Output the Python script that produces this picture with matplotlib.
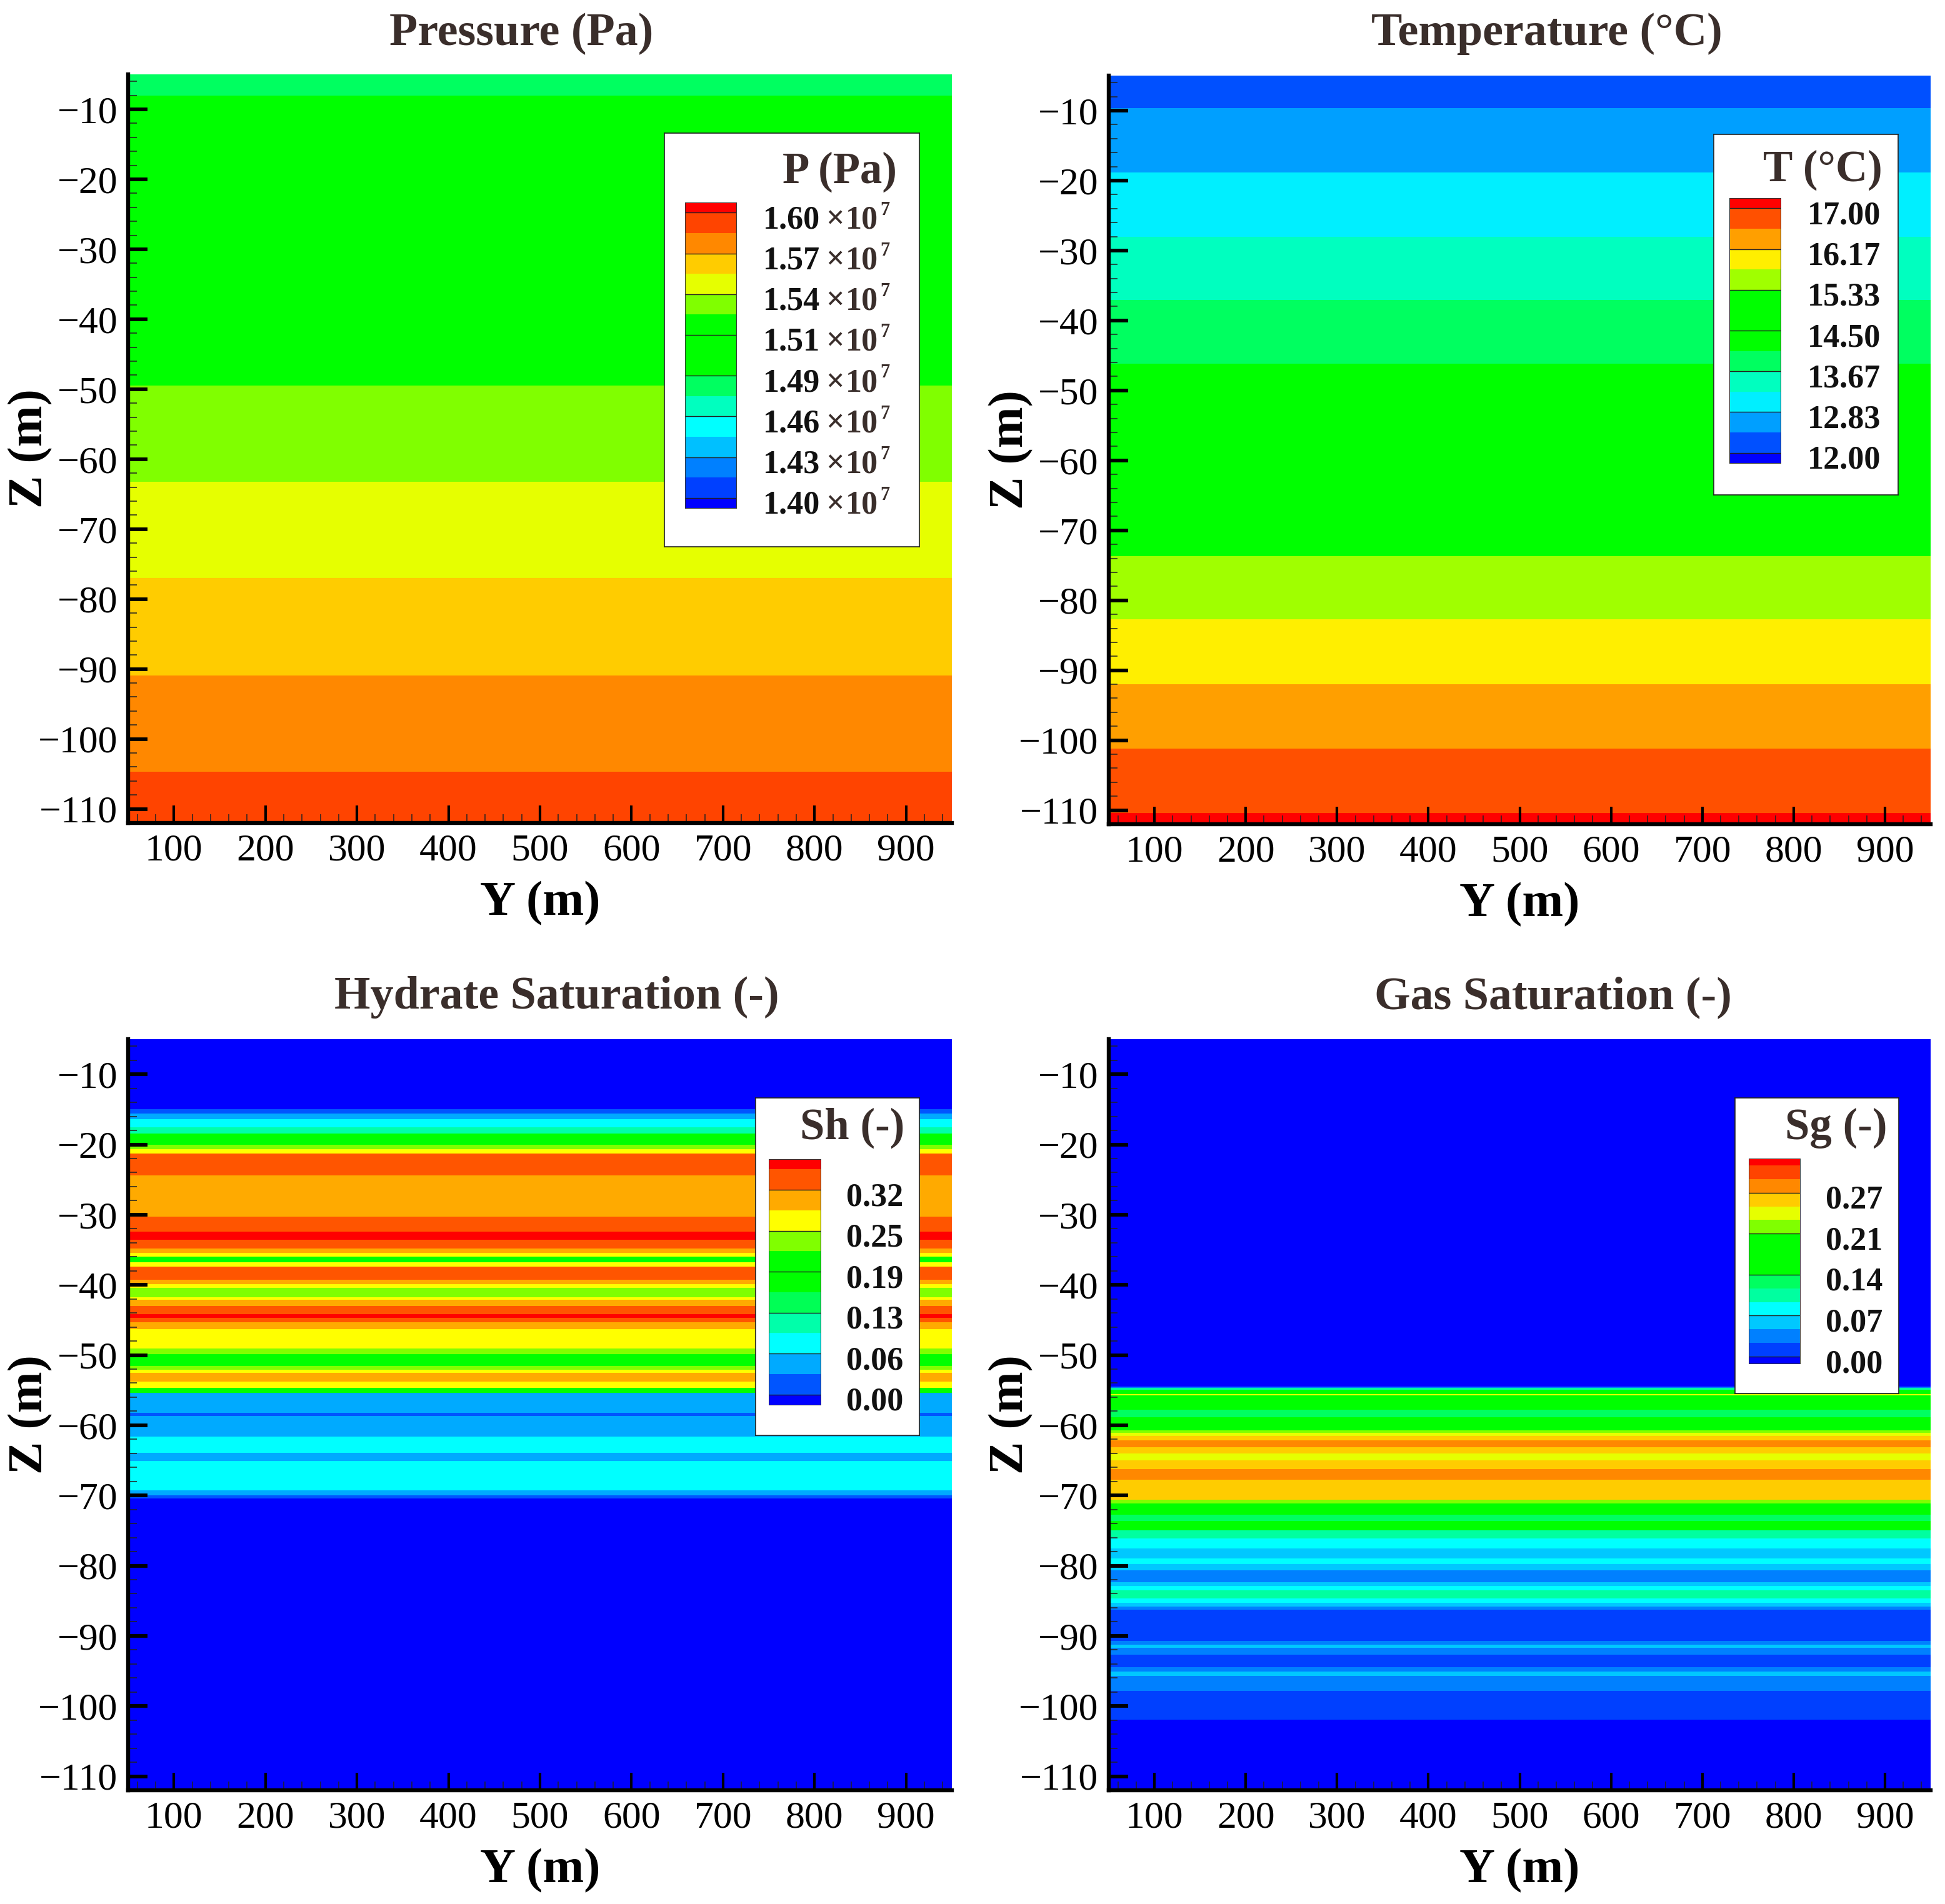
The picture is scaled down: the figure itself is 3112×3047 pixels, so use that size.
import numpy as np
import matplotlib
matplotlib.use("Agg")
import matplotlib.pyplot as plt
import matplotlib.transforms as mtrans
from matplotlib.colors import ListedColormap, BoundaryNorm
from matplotlib.ticker import MultipleLocator

plt.rcParams['font.family'] = ['Liberation Serif', 'DejaVu Sans']

W, H = 3112, 3047
Y_EDGES = [50, 950]
Z_TOP, Z_BOTTOM = -5, -112

# ---- Pressure (x1e7 Pa)
p_edges = [-5, -8.05, -49.5, -63.2, -77.0, -90.9, -104.7, -112]
p_vals = [1.4786, 1.5071, 1.5357, 1.55, 1.5643, 1.5786, 1.5929]
p_levels = list(np.round(np.linspace(1.40, 1.60, 15), 5))
p_labels = ['1.40', '1.43', '1.46', '1.49', '1.51', '1.54', '1.57', '1.60']
p_colors = ['#0000ff', '#0040ff', '#0080ff', '#00c0ff', '#00ffff', '#00ffbf', '#00ff60', '#00ff00',
            '#00ff00', '#00ff00', '#80ff00', '#e6ff00', '#ffcc00', '#ff8800', '#ff4400', '#ff0000']

# ---- Temperature (deg C)
t_edges = [-5, -9.6, -18.8, -28.0, -37.1, -46.2, -73.7, -82.7, -92.0, -101.2, -110.4, -112]
t_vals = [12.21, 12.625, 13.04, 13.46, 13.875, 14.5, 15.54, 15.96, 16.375, 16.79, 17.1]
t_levels = list(np.round(np.linspace(12.0, 17.0, 13), 4))
t_labels = ['12.00', '12.83', '13.67', '14.50', '15.33', '16.17', '17.00']
t_colors = ['#0000ff', '#0050ff', '#009fff', '#00efff', '#00ffbf', '#00ff60', '#00ff00',
            '#00ff00', '#00ff00', '#a0ff00', '#ffef00', '#ff9f00', '#ff5000', '#ff0000']

# ---- Hydrate saturation
sh_edges = [-5, -14.93, -15.61, -16.39, -17.53, -18.44, -20.08, -20.63, -21.27, -24.42, -30.30,
            -32.40, -33.54, -34.86, -35.41, -36.0, -36.82, -37.37, -39.29, -39.88, -40.43,
            -41.80, -42.16, -42.98, -44.21, -44.67, -45.36, -46.27, -49.10, -49.83, -51.56,
            -52.11, -52.56, -53.75, -54.71, -55.39, -58.22, -58.68, -61.64, -63.97, -65.06,
            -69.31, -70.0, -70.45, -112]
sh_vals = [0, .016, .048, .080, .111, .175, .239, .270, .334, .302,
           .334, .36, .334, .302, .270, .175, .270, .334, .302, .270,
           .239, .270, .302, .334, .36, .334, .302, .270, .239, .175,
           .239, .270, .302, .270, .175, .048, .016, .048, .080, .048,
           .080, .048, .016, 0]
sh_levels = [round(0.0318 * i, 4) for i in range(12)]
sh_labels = ['0.00', '0.06', '0.13', '0.19', '0.25', '0.32']
sh_colors = ['#0000ff', '#0055ff', '#00aaff', '#00ffff', '#00ffaa', '#00ff55', '#00ff00',
             '#00ff00', '#80ff00', '#ffff00', '#ffaa00', '#ff5500', '#ff0000']

# ---- Gas saturation
sg_edges = [-5, -54.46, -54.66, -54.93, -55.6, -55.7, -57.83, -58.85, -60.75, -61.05, -61.5,
            -62.17, -63.09, -64.01, -64.96, -66.22, -67.72, -70.65, -71.1, -72.73, -73.61,
            -75.0, -76.13, -77.56, -78.99, -79.8, -80.69, -82.39, -82.93, -83.51, -84.7,
            -85.31, -85.79, -86.23, -90.72, -91.23, -91.74, -92.69, -94.5, -95.11, -95.75,
            -97.83, -101.98, -112]
sg_vals = [0, .034, .101, .169, .236, .169, .124, .169, .214, .236,
           .259, .281, .259, .236, .259, .281, .259, .214, .169, .124,
           .169, .101, .079, .056, .079, .056, .034, .056, .079, .101,
           .079, .056, .034, .011, .034, .056, .034, .011, .034, .056,
           .034, .011, 0]
sg_levels = [round(0.0225 * i, 4) for i in range(15)]
sg_labels = ['0.00', '0.07', '0.14', '0.21', '0.27']
sg_colors = ['#0000ff', '#0040ff', '#0080ff', '#00c8ff', '#00ffff', '#00ffa0', '#00ff60', '#00ff00',
             '#00ff00', '#00ff00', '#80ff00', '#e6ff00', '#ffcc00', '#ff8800', '#ff4400', '#ff0000']

X_TICKS = list(range(100, 1000, 100))
Z_TICKS = list(range(-110, 0, 10))
INK = '#000000'
WARM = '#3a2e2b'


def fig_rect(x0, y0, x1, y1):
    return [x0 / W, 1 - y1 / H, (x1 - x0) / W, (y1 - y0) / H]


fig = plt.figure(figsize=(W / 100, H / 100), dpi=100, facecolor='white')


def panel(rect, edges, vals, levels, colors, title, title_xy):
    ax = fig.add_axes(fig_rect(*rect))
    cmap = ListedColormap(colors)
    norm = BoundaryNorm(np.arange(len(colors) + 1) - 0.5, len(colors))
    idx = np.searchsorted(levels, vals, side='left')
    ax.pcolormesh(Y_EDGES, edges, np.array(idx)[:, None], cmap=cmap, norm=norm,
                  antialiased=False, linewidth=0, rasterized=True)
    ax.set_xlim(*Y_EDGES)
    ax.set_ylim(Z_BOTTOM, Z_TOP)
    ax.spines['top'].set_visible(False)
    ax.spines['right'].set_visible(False)
    for s in ('left', 'bottom'):
        ax.spines[s].set_linewidth(4.6)
    ax.set_xticks(X_TICKS)
    ax.set_yticks(Z_TICKS)
    ax.xaxis.set_minor_locator(MultipleLocator(20))
    ax.yaxis.set_minor_locator(MultipleLocator(2))
    ax.tick_params(axis='x', which='major', direction='in', length=20, width=3, pad=12, labelsize=44.5)
    ax.tick_params(axis='y', which='major', direction='in', length=22, width=4.2, pad=12, labelsize=44.5)
    ax.tick_params(axis='both', which='minor', direction='in', length=10, width=1.1, color='#222222')
    x_mid = (rect[0] + rect[2]) / 2
    fig.text(x_mid / W, 1 - (rect[3] + 129) / H, 'Y (m)', fontsize=57, fontweight='bold',
             ha='center', va='center', color=INK)
    fig.text((rect[0] - 156) / W, 1 - (rect[1] + rect[3]) / 2 / H, 'Z (m)', fontsize=57,
             fontweight='bold', rotation=90, ha='center', va='center', color=INK)
    fig.text(title_xy[0] / W, 1 - title_xy[1] / H, title, fontsize=53.3, fontweight='bold',
             ha='center', va='center', color=WARM)
    return ax


def legend(box, bar, levels, colors, labels, every, title, title_right, title_y, label_left,
           suffix=False):
    frame = fig.add_axes(fig_rect(*box), zorder=5, facecolor='white')
    frame.set_xticks([])
    frame.set_yticks([])
    for s in frame.spines.values():
        s.set_linewidth(1.2)
        s.set_color('#222222')
    cax = fig.add_axes(fig_rect(*bar), zorder=6)
    lv = np.array(levels, dtype=float)
    step = lv[1] - lv[0]
    cell_edges = np.concatenate([[lv[0] - step / 2], lv, [lv[-1] + step / 2]])
    cmap = ListedColormap(colors)
    norm = BoundaryNorm(np.arange(len(colors) + 1) - 0.5, len(colors))
    cax.pcolormesh([0, 1], cell_edges, np.arange(len(colors))[:, None], cmap=cmap, norm=norm,
                   antialiased=False, linewidth=0)
    cax.set_xlim(0, 1)
    cax.set_ylim(cell_edges[0], cell_edges[-1])
    cax.set_xticks([])
    cax.set_yticks([])
    for s in cax.spines.values():
        s.set_linewidth(0.7)
        s.set_color('#333333')
    marked = lv[::every]
    cax.hlines(marked, 0, 1, colors='#222222', linewidth=1.0)
    tr = mtrans.blended_transform_factory(fig.transFigure, cax.transData)
    for level, text in zip(marked, labels):
        cax.annotate(text, xy=(label_left / W, level), xycoords=tr, xytext=(0, -8.7),
                     textcoords='offset points', fontsize=37.5, fontweight='bold', ha='left',
                     va='center', color='#111111', annotation_clip=False, zorder=7)
        if suffix:
            cax.annotate('×', xy=((label_left + 100) / W, level), xycoords=tr, xytext=(0, -8.7),
                         textcoords='offset points', fontsize=37.5, fontweight='bold', ha='left',
                         va='center', color=WARM, annotation_clip=False, zorder=7)
            cax.annotate('10', xy=((label_left + 132) / W, level), xycoords=tr, xytext=(0, -8.7),
                         textcoords='offset points', fontsize=37.5, fontweight='bold', ha='left',
                         va='center', color=WARM, annotation_clip=False, zorder=7)
            cax.annotate('7', xy=((label_left + 187) / W, level), xycoords=tr, xytext=(0, 3),
                         textcoords='offset points', fontsize=22, fontweight='bold', ha='left',
                         va='center', color=WARM, annotation_clip=False, zorder=7)
    fig.text(title_right / W, 1 - title_y / H, title, fontsize=51, fontweight='bold',
             ha='right', va='center', color=WARM, zorder=8)


panel((205, 119, 1523, 1317), p_edges, p_vals, p_levels, p_colors, 'Pressure (Pa)', (834, 54))
legend((1063, 213, 1471, 875), (1096, 324, 1178, 813), p_levels, p_colors, p_labels, 2,
       'P (Pa)', 1435, 275, 1221, suffix=True)

panel((1774, 121, 3089, 1319), t_edges, t_vals, t_levels, t_colors, 'Temperature (°C)', (2475, 54))
legend((2742, 215, 3037, 792), (2767, 317, 2849, 741), t_levels, t_colors, t_labels, 2,
       'T (°C)', 3012, 272, 2892)

panel((205, 1663, 1523, 2865), sh_edges, sh_vals, sh_levels, sh_colors, 'Hydrate Saturation (-)', (891, 1596))
legend((1209, 1757, 1471, 2297), (1230, 1855, 1313, 2248), sh_levels, sh_colors, sh_labels, 2,
       'Sh (-)', 1447, 1805, 1354)

panel((1774, 1663, 3089, 2865), sg_edges, sg_vals, sg_levels, sg_colors, 'Gas Saturation (-)', (2485, 1596))
legend((2776, 1757, 3038, 2230), (2798, 1854, 2880, 2182), sg_levels, sg_colors, sg_labels, 3,
       'Sg (-)', 3020, 1805, 2921)

fig.savefig('out.png', dpi=100, facecolor='white')
